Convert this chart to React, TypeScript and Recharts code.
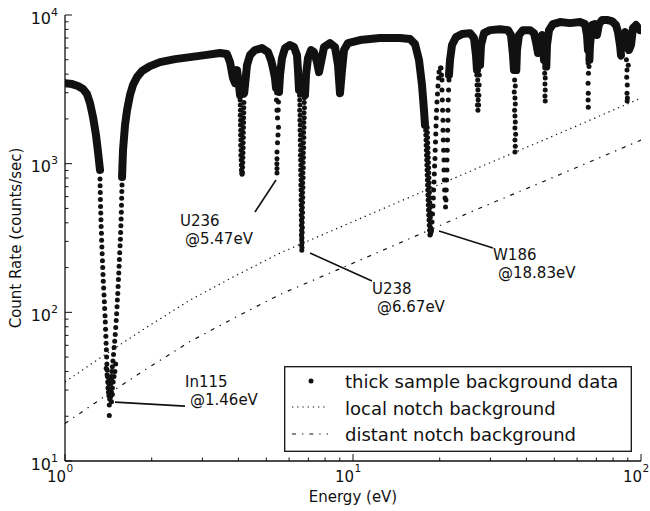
import {
  ComposedChart,
  Line,
  Scatter,
  XAxis,
  YAxis,
  ReferenceLine,
  ReferenceDot,
  Legend,
  Label,
} from "recharts";

type Pt = [number, number];

const INK = "#111";
const FONT = "DejaVu Sans, sans-serif";

// dense part of the measured trace (energy eV, counts/sec); null = trace breaks into sparse dots
const bandTrace: (Pt | null)[] = [
  [1, 3480], [1.058, 3430], [1.109, 3330], [1.155, 3180], [1.192, 2940], [1.221, 2560],
  [1.251, 2060], [1.281, 1560], [1.302, 1200], [1.323, 906],
  null,
  [1.578, 812], [1.59, 1230], [1.616, 1820], [1.642, 2290], [1.681, 2890], [1.722, 3380],
  [1.778, 3820], [1.851, 4200], [1.973, 4530], [2.138, 4820], [2.41, 5050], [2.717, 5210],
  [3.063, 5370], [3.453, 5550], [3.651, 5460], [3.741, 4820], [3.831, 3770], [3.893, 3480],
  [3.956, 4260], [4.02, 3380], [4.053, 2890],
  null,
  [4.19, 3000], [4.217, 3380], [4.285, 4600], [4.389, 5370], [4.567, 5810], [4.831, 5990],
  [5.069, 5630], [5.192, 4980], [5.275, 4400], [5.36, 3770], [5.403, 3230],
  null,
  [5.535, 3030], [5.579, 3950], [5.669, 5130], [5.806, 5990], [6.044, 6280], [6.24, 6080],
  [6.391, 5370], [6.442, 4260], [6.494, 3130],
  null,
  [6.812, 2890], [6.868, 3950], [6.979, 5130], [7.148, 5810], [7.322, 5630], [7.499, 4820],
  [7.62, 4130], [7.744, 4820], [7.932, 6080], [8.32, 6470], [8.66, 6080], [8.871, 4600],
  [9.013, 2980], [9.158, 4260], [9.307, 5810], [9.608, 6470], [10.58, 6780], [12.41, 7000],
  [14.56, 7000], [15.78, 6890], [16.42, 6370], [16.95, 4980], [17.36, 3380], [17.64, 2290],
  [17.78, 1820],
  null,
  [21.54, 3950], [21.72, 4980], [22.07, 6280], [22.79, 7100], [23.9, 7440], [25.48, 7550],
  [26.31, 7000], [26.73, 5370], [26.95, 4260],
  null,
  [27.61, 4600], [27.83, 6280], [28.5, 7550], [29.91, 7910], [32.39, 8030], [34.53, 7910],
  [35.37, 7330], [35.94, 5370], [36.22, 4260],
  null,
  [36.9, 4260], [37.1, 5810], [37.7, 7330], [38.93, 7910], [41.18, 7910], [42.52, 7550],
  [43.2, 6570], [43.9, 5550], [44.61, 6780], [45.33, 7330], [45.68, 6280], [46.05, 4980],
  null,
  [46.9, 4500], [47.16, 6280], [47.92, 7910], [49.48, 8690], [52.34, 8960], [56.68, 8820],
  [61.4, 8960], [63.9, 8690], [64.94, 7330], [65.46, 5810],
  null,
  [66.2, 5000], [66.51, 6280], [67.05, 7330], [67.59, 8550], [69.23, 8690], [70.34, 7330],
  [71.48, 8690], [73.22, 9250], [76.2, 9250], [79.31, 9100], [81.89, 8550], [83.21, 7670],
  [84.55, 6280], [85.23, 5370],
  null,
  [86.2, 6000], [86.6, 7330], [87.99, 7670], [90.13, 6780], [90.85, 5810], [92.33, 6280],
  [93.8, 8170], [96.08, 8550], [99.2, 7910], [100, 7910],
];

// sparse points down the resonance walls
const in115Dots: Pt[] = [
  [1.323, 790], [1.324, 710], [1.326, 640], [1.327, 575], [1.329, 515], [1.331, 465],
  [1.333, 420], [1.335, 378], [1.338, 340], [1.34, 305], [1.343, 275], [1.346, 248],
  [1.349, 222], [1.352, 200], [1.355, 180], [1.358, 162], [1.362, 146], [1.366, 131],
  [1.37, 118], [1.373, 106], [1.377, 95], [1.38, 86], [1.383, 77], [1.386, 69],
  [1.389, 62], [1.392, 56], [1.395, 50], [1.398, 45], [1.401, 41], [1.404, 37],
  [1.407, 34], [1.41, 31],
  [1.578, 800], [1.577, 720], [1.575, 650], [1.573, 585], [1.571, 525], [1.569, 472],
  [1.566, 425], [1.563, 383], [1.56, 345], [1.557, 310], [1.553, 280], [1.549, 252],
  [1.545, 227], [1.541, 204], [1.537, 184], [1.533, 166], [1.529, 149], [1.525, 134],
  [1.52, 121], [1.516, 109], [1.511, 98], [1.506, 88], [1.5, 79], [1.494, 71],
  [1.488, 64], [1.481, 58], [1.474, 52], [1.467, 47], [1.46, 43], [1.454, 40],
  [1.448, 37], [1.442, 35],
  [1.39, 42], [1.4, 38], [1.42, 36], [1.44, 33], [1.415, 29], [1.43, 30], [1.45, 29],
  [1.42, 27.5], [1.44, 27], [1.46, 28], [1.43, 26], [1.45, 25], [1.46, 31], [1.47, 34],
  [1.42, 33], [1.45, 35], [1.48, 37], [1.49, 40], [1.5, 45], [1.425, 23.8], [1.425, 20.2],
];

const dip415Dots: Pt[] = [
  [4.055, 2680], [4.06, 2480], [4.065, 2290], [4.06, 2120], [4.07, 1960], [4.065, 1820],
  [4.075, 1680], [4.07, 1560], [4.08, 1440], [4.075, 1330], [4.085, 1230], [4.08, 1140],
  [4.09, 1060], [4.095, 980], [4.1, 906],
  [4.185, 2890], [4.18, 2580], [4.175, 2380], [4.175, 2200], [4.17, 2040], [4.17, 1890],
  [4.165, 1750], [4.16, 1620], [4.16, 1500], [4.155, 1385], [4.155, 1280], [4.15, 1185],
  [4.145, 1100], [4.14, 1020], [4.135, 945], [4.13, 875], [4.12, 850], [4.11, 865],
];

const u236Dots: Pt[] = [
  [5.43, 3000], [5.424, 2680], [5.446, 2290], [5.468, 2030], [5.512, 1760], [5.49, 1560],
  [5.468, 1380], [5.446, 1200], [5.446, 1080], [5.44, 1000], [5.446, 927], [5.446, 865],
  [5.51, 2600], [5.5, 2300],
];

const u238Dots: Pt[] = [
  [6.52, 2890], [6.53, 2680], [6.54, 2480], [6.53, 2290], [6.55, 2120], [6.54, 1960],
  [6.56, 1820], [6.55, 1680], [6.57, 1560], [6.56, 1440], [6.57, 1330], [6.58, 1230],
  [6.57, 1140], [6.58, 1060], [6.59, 980], [6.58, 906], [6.59, 838], [6.6, 776],
  [6.59, 718], [6.6, 664], [6.61, 615], [6.6, 569], [6.61, 527], [6.62, 488],
  [6.61, 451], [6.62, 418], [6.62, 386], [6.63, 357], [6.62, 331], [6.63, 306],
  [6.63, 284], [6.64, 262],
  [6.78, 2780], [6.77, 2580], [6.78, 2380], [6.76, 2200], [6.77, 2040], [6.75, 1890],
  [6.76, 1750], [6.74, 1620], [6.75, 1500], [6.73, 1385], [6.74, 1280], [6.72, 1185],
  [6.73, 1100], [6.71, 1020], [6.72, 940], [6.7, 870], [6.71, 805], [6.69, 745],
  [6.7, 690], [6.68, 640], [6.69, 592], [6.68, 548], [6.67, 507], [6.68, 470],
  [6.67, 435], [6.66, 402], [6.67, 372], [6.66, 344], [6.65, 318], [6.66, 295], [6.65, 273],
];

const w186Dots: Pt[] = [
  [17.85, 1820], [17.88, 1680], [17.9, 1560], [17.93, 1440], [17.95, 1330], [17.98, 1230],
  [18.0, 1140], [18.03, 1060], [18.05, 980], [18.08, 906], [18.1, 838], [18.13, 776],
  [18.15, 718], [18.18, 664], [18.2, 615], [18.23, 569], [18.26, 527], [18.29, 488],
  [18.32, 451], [18.36, 418], [18.4, 386], [18.45, 357], [18.5, 331],
  [18.1, 1750], [18.12, 1620], [18.15, 1500], [18.17, 1385], [18.2, 1280], [18.22, 1185],
  [18.25, 1100], [18.27, 1020], [18.3, 940], [18.32, 870], [18.35, 805], [18.37, 745],
  [18.4, 690], [18.42, 640], [18.45, 592], [18.47, 548], [18.5, 507], [18.52, 470],
  [18.55, 435], [18.57, 402], [18.6, 372], [18.62, 344],
  [18.73, 357], [18.81, 405], [18.89, 458], [18.96, 519], [19.01, 587], [19.05, 664],
  [19.11, 752], [19.16, 851], [19.2, 963], [19.26, 1082], [19.29, 1230], [19.34, 1397],
  [19.38, 1582], [19.42, 1790], [19.46, 2026], [19.51, 2290], [19.57, 2596], [19.65, 2939],
  [19.73, 3326], [19.81, 3770], [19.89, 4130], [20.13, 4400], [20.21, 4400], [20.29, 3950],
  [18.55, 335], [18.62, 345], [18.66, 352],
];

const dip209Dots: Pt[] = [
  [20.37, 3650], [20.37, 3130], [20.42, 2680], [20.47, 2290], [20.54, 1960], [20.54, 1680],
  [20.59, 1440], [20.64, 1230], [20.7, 1060], [20.7, 906], [20.75, 776], [20.8, 664],
  [20.87, 587], [20.95, 511],
  [21.03, 569], [21.08, 664], [21.13, 776], [21.2, 906], [21.2, 1060], [21.25, 1230],
  [21.29, 1440], [21.32, 1680], [21.37, 1960], [21.37, 2290], [21.42, 2680], [21.47, 3130],
  [21.54, 3650],
];

const highDots: Pt[] = [
  [26.9, 3950], [27.1, 3650], [26.95, 3380], [27.15, 3130], [27.0, 2890], [27.2, 2680],
  [27.05, 2480], [27.15, 2290], [27.3, 2480], [27.35, 2890], [27.4, 3380], [27.45, 3950],
  [36.4, 3650], [36.6, 3330], [36.3, 3030], [36.5, 2760], [36.6, 2520], [36.4, 2290],
  [36.5, 2090], [36.6, 1905], [36.5, 1735], [36.7, 1580], [36.5, 1440], [36.6, 1310],
  [36.5, 1200],
  [46.2, 4820], [46.4, 4400], [46.3, 4060], [46.5, 3770], [46.4, 3430], [46.5, 3130],
  [46.4, 2850], [46.5, 2640], [46.0, 5300], [46.8, 5000],
  [65.6, 5550], [65.5, 4750], [65.7, 4060], [65.5, 3480], [65.6, 2980], [65.5, 2680],
  [65.6, 2400], [66.0, 4500],
  [84.0, 6780], [85.0, 6080], [84.5, 5550], [85.2, 5200], [89.0, 5000], [89.4, 4260],
  [89.2, 3820], [89.6, 3380], [89.4, 2980], [89.7, 2760], [89.5, 2640], [90.3, 4600],
];

const localNotch: Pt[] = [
  [1, 34], [1.323, 49.3], [1.822, 74.3], [2.717, 121], [3.893, 175.5], [5.579, 250.5],
  [12.41, 488], [27.61, 949], [52.34, 1606], [100, 2762],
];

const distantNotch: Pt[] = [
  [1, 17.9], [1.323, 25.9], [1.822, 39.1], [2.717, 63.6], [3.893, 92.3], [5.579, 131.8],
  [12.41, 256.4], [27.61, 503], [52.34, 845], [100, 1441],
];

const xTicks = [1, 2, 3, 4, 5, 6, 7, 8, 9, 10, 20, 30, 40, 50, 60, 70, 80, 90, 100];
const yTicks = [
  10, 20, 30, 40, 50, 60, 70, 80, 90, 100, 200, 300, 400, 500, 600, 700, 800, 900,
  1000, 2000, 3000, 4000, 5000, 6000, 7000, 8000, 9000, 10000,
];

const annotations = [
  { isotope: "U236", energy: "@5.47eV", text: [2.508, 380.5], from: [4.567, 473], to: [5.403, 776] },
  { isotope: "U238", energy: "@6.67eV", text: [11.64, 132.8], from: [7.091, 250.5], to: [11.64, 162.4] },
  { isotope: "W186", energy: "@18.83eV", text: [30.63, 224.7], from: [19.89, 352], to: [30.63, 270.6] },
  { isotope: "In115", energy: "@1.46eV", text: [2.61, 31.4], from: [1.491, 24.9], to: [2.61, 23.4] },
];

const DOTTED = "1.3 3.9";
const DASHDOT = "4 6 1.3 6";

const toRows = (pts: Pt[]) => pts.map(([x, y]) => ({ x, y }));

const bandRuns: Pt[][] = bandTrace.reduce<Pt[][]>(
  (runs, p) => {
    if (p === null) runs.push([]);
    else runs[runs.length - 1].push(p);
    return runs;
  },
  [[]]
);

const allDots = [
  ...in115Dots, ...dip415Dots, ...u236Dots, ...u238Dots, ...w186Dots, ...dip209Dots, ...highDots,
];

const isDecade = (v: number) => Math.abs(Math.log10(v) - Math.round(Math.log10(v))) < 1e-6;
const MAJOR = 7;
const MINOR = 3.5;

function BottomTick({ x, y, payload }: any) {
  const major = isDecade(payload.value);
  return (
    <g>
      <line x1={x} x2={x} y1={y} y2={y - (major ? MAJOR : MINOR)} stroke={INK} strokeWidth={1} />
      {major && (
        <g fill={INK} fontFamily={FONT}>
          <text x={x + 1} y={y + 21} textAnchor="end" fontSize={15}>
            10
          </text>
          <text x={x + 1.5} y={y + 11} fontSize={10.5}>
            {Math.round(Math.log10(payload.value))}
          </text>
        </g>
      )}
    </g>
  );
}

function LeftTick({ x, y, payload }: any) {
  const major = isDecade(payload.value);
  return (
    <g>
      <line x1={x} x2={x + (major ? MAJOR : MINOR)} y1={y} y2={y} stroke={INK} strokeWidth={1} />
      {major && (
        <text x={x - 7} y={y + 8.5} textAnchor="end" fontSize={16} fill={INK} fontFamily={FONT}>
          10
          <tspan dy={-8} fontSize={11}>
            {Math.round(Math.log10(payload.value))}
          </tspan>
        </text>
      )}
    </g>
  );
}

function TopTick({ x, y, payload }: any) {
  const len = isDecade(payload.value) ? MAJOR : MINOR;
  return <line x1={x} x2={x} y1={y} y2={y + len} stroke={INK} strokeWidth={1} />;
}

function RightTick({ x, y, payload }: any) {
  const len = isDecade(payload.value) ? MAJOR : MINOR;
  return <line x1={x} x2={x - len} y1={y} y2={y} stroke={INK} strokeWidth={1} />;
}

function LegendBox() {
  const textProps = { fontSize: 18, fill: INK, fontFamily: FONT };
  return (
    <svg width={348} height={86} style={{ display: "block" }}>
      <rect x={0.7} y={0.7} width={346.6} height={84.6} fill="#fff" stroke={INK} strokeWidth={1.3} />
      <circle cx={27} cy={15} r={2.5} fill={INK} />
      <text x={61} y={22} {...textProps}>thick sample background data</text>
      <line x1={8} x2={44} y1={41} y2={41} stroke={INK} strokeWidth={1.2} strokeDasharray={DOTTED} />
      <text x={61} y={48.5} {...textProps}>local notch background</text>
      <line x1={8} x2={44} y1={68} y2={68} stroke={INK} strokeWidth={1.2} strokeDasharray={DASHDOT} />
      <text x={61} y={75} {...textProps}>distant notch background</text>
    </svg>
  );
}

export default function App() {
  return (
    <div style={{ position: "absolute", left: 0, top: 0, background: "#fff", fontFamily: FONT }}>
      <ComposedChart width={650} height={511} margin={{ top: 15, right: 9, bottom: 0, left: 0 }}>
        <XAxis
          dataKey="x"
          type="number"
          scale="log"
          domain={[1, 100]}
          allowDataOverflow
          ticks={xTicks}
          interval={0}
          tickSize={0}
          tickMargin={0}
          tickLine={false}
          tick={(p: any) => <BottomTick {...p} />}
          height={50}
          axisLine={{ stroke: INK, strokeWidth: 1.3 }}
        >
          <Label
            content={({ viewBox }: any) => (
              <text
                x={viewBox.x + viewBox.width / 2}
                y={viewBox.y + 41}
                textAnchor="middle"
                fontSize={15}
                fill={INK}
                fontFamily={FONT}
              >
                Energy (eV)
              </text>
            )}
          />
        </XAxis>
        <XAxis
          xAxisId="top"
          orientation="top"
          dataKey="x"
          type="number"
          scale="log"
          domain={[1, 100]}
          allowDataOverflow
          ticks={xTicks}
          interval={0}
          tickSize={0}
          tickMargin={0}
          tickLine={false}
          tick={(p: any) => <TopTick {...p} />}
          height={0}
          axisLine={{ stroke: INK, strokeWidth: 1.3 }}
        />
        <YAxis
          dataKey="y"
          type="number"
          scale="log"
          domain={[10, 10000]}
          allowDataOverflow
          ticks={yTicks}
          interval={0}
          tickSize={0}
          tickMargin={0}
          tickLine={false}
          tick={(p: any) => <LeftTick {...p} />}
          width={65}
          axisLine={{ stroke: INK, strokeWidth: 1.3 }}
        >
          <Label
            content={({ viewBox }: any) => {
              const cx = viewBox.x + 21;
              const cy = viewBox.y + viewBox.height / 2;
              return (
                <text
                  x={cx}
                  y={cy}
                  transform={`rotate(-90 ${cx} ${cy})`}
                  textAnchor="middle"
                  fontSize={15}
                  fill={INK}
                  fontFamily={FONT}
                >
                  Count Rate (counts/sec)
                </text>
              );
            }}
          />
        </YAxis>
        <YAxis
          yAxisId="right"
          orientation="right"
          dataKey="y"
          type="number"
          scale="log"
          domain={[10, 10000]}
          allowDataOverflow
          ticks={yTicks}
          interval={0}
          tickSize={0}
          tickMargin={0}
          tickLine={false}
          tick={(p: any) => <RightTick {...p} />}
          width={0}
          axisLine={{ stroke: INK, strokeWidth: 1.3 }}
        />

        {/* keeps the mirror axes bound to data */}
        <Line
          xAxisId="top"
          yAxisId="right"
          data={toRows(localNotch)}
          dataKey="y"
          stroke="none"
          dot={false}
          activeDot={false}
          legendType="none"
          isAnimationActive={false}
        />

        <Line
          data={toRows(localNotch)}
          dataKey="y"
          stroke={INK}
          strokeWidth={1.2}
          strokeDasharray={DOTTED}
          dot={false}
          activeDot={false}
          isAnimationActive={false}
        />
        <Line
          data={toRows(distantNotch)}
          dataKey="y"
          stroke={INK}
          strokeWidth={1.2}
          strokeDasharray={DASHDOT}
          dot={false}
          activeDot={false}
          isAnimationActive={false}
        />

        {bandRuns.map((run, i) => (
          <Line
            key={`band-${i}`}
            data={toRows(run)}
            dataKey="y"
            stroke={INK}
            strokeWidth={8}
            strokeLinejoin="round"
            strokeLinecap="round"
            dot={false}
            activeDot={false}
            isAnimationActive={false}
          />
        ))}
        <Scatter
          data={toRows(allDots)}
          dataKey="y"
          fill={INK}
          shape={(p: any) => <circle cx={p.cx} cy={p.cy} r={2.5} fill={INK} />}
          isAnimationActive={false}
        />

        {annotations.map((a) => (
          <ReferenceLine
            key={`lead-${a.isotope}`}
            segment={[
              { x: a.from[0], y: a.from[1] },
              { x: a.to[0], y: a.to[1] },
            ]}
            stroke={INK}
            strokeWidth={1.6}
          />
        ))}
        {annotations.map((a) => (
          <ReferenceDot
            key={`text-${a.isotope}`}
            x={a.text[0]}
            y={a.text[1]}
            r={0}
            shape={(p: any) => (
              <text x={p.cx} y={p.cy} fontSize={15} fill={INK} fontFamily={FONT}>
                <tspan x={p.cx}>{a.isotope}</tspan>
                <tspan x={p.cx + 5} dy={17.5}>
                  {a.energy}
                </tspan>
              </text>
            )}
          />
        ))}

        <Legend
          layout="vertical"
          align="center"
          verticalAlign="middle"
          content={() => <LegendBox />}
          wrapperStyle={{ left: 284, top: 366, width: 348, height: 86, margin: 0 }}
        />
      </ComposedChart>
    </div>
  );
}
